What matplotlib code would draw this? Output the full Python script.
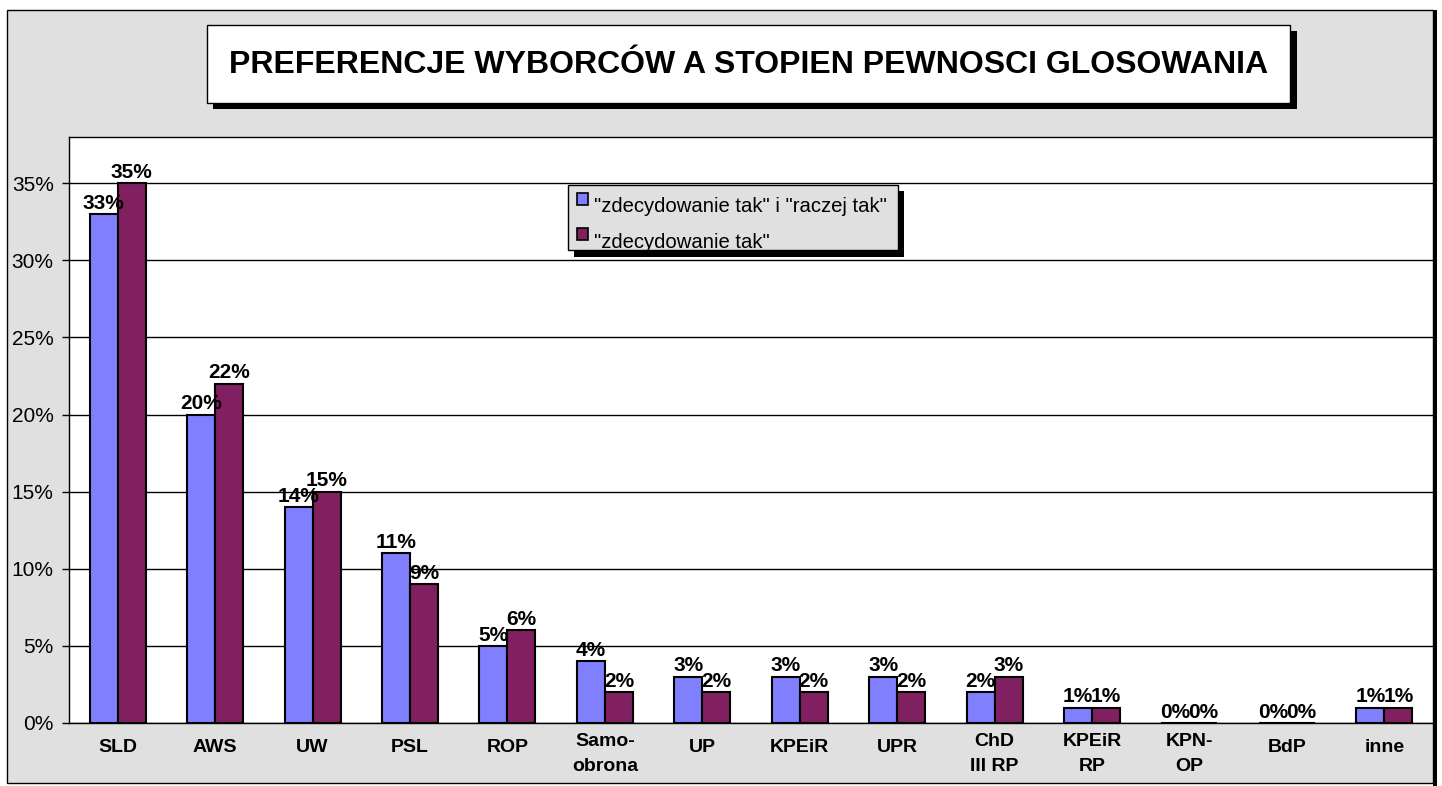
import matplotlib
matplotlib.use("Agg")
import matplotlib.pyplot as plt
from matplotlib.patches import Rectangle
import numpy as np

plt.rcParams['font.family'] = ['Liberation Sans', 'DejaVu Sans']

categories = ["SLD", "AWS", "UW", "PSL", "ROP", "Samo-\nobrona", "UP", "KPEiR",
              "UPR", "ChD\nIII RP", "KPEiR\nRP", "KPN-\nOP", "BdP", "inne"]
series1_name = '"zdecydowanie tak" i "raczej tak"'
series2_name = '"zdecydowanie tak"'
series1 = [33, 20, 14, 11, 5, 4, 3, 3, 3, 2, 1, 0, 0, 1]
series2 = [35, 22, 15, 9, 6, 2, 2, 2, 2, 3, 1, 0, 0, 1]
yticks = [0, 5, 10, 15, 20, 25, 30, 35]
ytick_labels = ["0%", "5%", "10%", "15%", "20%", "25%", "30%", "35%"]
title = "PREFERENCJE WYBORCÓW A STOPIEN PEWNOSCI GLOSOWANIA"

C1 = "#8080ff"
C2 = "#802060"
GRAY = "#e0e0e0"

W, H = 1442, 786
fig = plt.figure(figsize=(W / 100, H / 100), dpi=100)


def rect_px(x0, y0, x1, y1, **kw):
    r = Rectangle((x0 / W, 1 - y1 / H), (x1 - x0) / W, (y1 - y0) / H,
                  transform=fig.transFigure, **kw)
    fig.patches.append(r)
    return r


# outer chart area
rect_px(7, 10, 1433, 783, facecolor=GRAY, edgecolor="black", lw=1, zorder=-5)
rect_px(1433, 10, 1437, 786, facecolor="black", edgecolor="none", zorder=-5)

# axes
ax_l, ax_r, ax_t, ax_b = 69, 1433, 137, 723
ax = fig.add_axes([ax_l / W, 1 - ax_b / H, (ax_r - ax_l) / W, (ax_b - ax_t) / H])
ax.set_zorder(2)
ax.set_facecolor("white")

x = np.arange(len(categories))
bw = 0.2875
ax.bar(x - bw / 2, series1, width=bw, color=C1, edgecolor="black", lw=1.5, zorder=3)
ax.bar(x + bw / 2, series2, width=bw, color=C2, edgecolor="black", lw=1.5, zorder=3)

for xi, v in zip(x, series1):
    ax.annotate(f"{v}%", (xi - bw / 2, v), xytext=(0, 1), textcoords="offset points",
                ha="center", va="bottom", fontsize=15, fontweight="bold", zorder=5)
for xi, v in zip(x, series2):
    ax.annotate(f"{v}%", (xi + bw / 2, v), xytext=(0, 1), textcoords="offset points",
                ha="center", va="bottom", fontsize=15, fontweight="bold", zorder=5)

ax.set_xlim(-0.5, len(categories) - 0.5)
ax.set_ylim(0, 38)
ax.set_yticks(yticks)
ax.set_yticklabels(ytick_labels, fontsize=15)
ax.tick_params(axis="y", length=5, width=1, pad=6, color="black")
ax.set_xticks([])
ax.grid(axis="y", color="black", lw=1, zorder=1)
ax.set_axisbelow(True)
for s in ax.spines.values():
    s.set_color("black")
    s.set_linewidth(1)

axh = ax_b - ax_t
for xi, lab in zip(x, categories):
    nlines = lab.count("\n") + 1
    ypix = 748 if nlines == 1 else 754
    ax.text(xi, -(ypix - ax_b) / axh, lab, transform=ax.get_xaxis_transform(),
            ha="center", va="center", fontsize=14, fontweight="bold",
            linespacing=1.65, clip_on=False)

# title box
rect_px(213, 31, 1297, 109, facecolor="black", edgecolor="none", zorder=3)
rect_px(207, 25, 1290, 103, facecolor="white", edgecolor="black", lw=1, zorder=4)
fig.text(748.5 / W, 1 - 65 / H, title, ha="center", va="center",
         fontsize=23, fontweight="bold", zorder=5)

# legend
rect_px(574, 191, 904, 257, facecolor="black", edgecolor="none", zorder=10)
lbox = rect_px(568, 185, 898, 250, facecolor=GRAY, edgecolor="black", lw=1, zorder=11)
rect_px(577, 193, 588, 205, facecolor=C1, edgecolor="black", lw=1.2, zorder=12)
rect_px(577, 228, 588, 240, facecolor=C2, edgecolor="black", lw=1.2, zorder=12)
t1 = fig.text(594 / W, 1 - 212 / H, series1_name, ha="left", va="baseline",
              fontsize=14.6, zorder=12)
t2 = fig.text(594 / W, 1 - 248 / H, series2_name, ha="left", va="baseline",
              fontsize=14.6, zorder=12)
for t in (t1, t2):
    t.set_clip_path(lbox)
    t.set_clip_on(True)

fig.savefig("out.png", dpi=100, facecolor="white")
